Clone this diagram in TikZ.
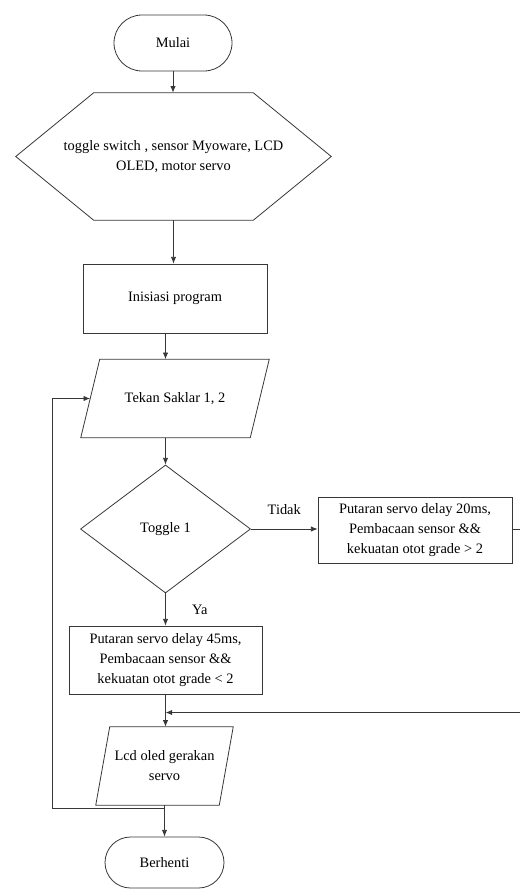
\documentclass[tikz,border=0pt]{standalone}
\usepackage{fontspec}
\setmainfont{Liberation Serif}
\usetikzlibrary{calc}
\usetikzlibrary{arrows.meta, positioning}
\usetikzlibrary{shapes.geometric, shapes.misc}

\begin{document}
\begin{tikzpicture}[x=0.75pt,y=0.75pt,yscale=-1,
  font=\fontsize{10.8}{15}\selectfont,
  garis/.style={color={rgb, 255:red, 55; green, 55; blue, 55}, line width=0.6pt},
  panah/.style={garis, -{Latex[length=5pt,width=4pt]}},
  terminal/.style={garis, draw, rounded rectangle, inner sep=0.75pt, text=black},
  proses/.style={garis, draw, rectangle, inner sep=0.75pt, align=center, text=black},
  kotak/.style={inner sep=0.75pt, align=center, text=black},
  keputusan/.style={garis, draw, diamond, inner sep=0.75pt, text=black},
  label/.style={inner sep=0.75pt, text=black}]

\useasboundingbox (0,0) rectangle (519,889);

% Mulai
\node [terminal, minimum width=90pt, minimum height=42pt] (mulai) at (173,43) {Mulai};
% Input hexagon
\node [kotak, minimum width=236.25pt, minimum height=95.25pt] (masukan) at (173.5,156.5) {toggle switch , sensor Myoware, LCD\\OLED, motor servo};
\draw [garis] (masukan.west) -- ([xshift=58.5pt]masukan.north west) -- ([xshift=-58.5pt]masukan.north east) -- (masukan.east) -- ([xshift=-58.5pt]masukan.south east) -- ([xshift=58.5pt]masukan.south west) -- cycle ;
% Inisiasi
\node [proses, minimum width=138pt, minimum height=51.75pt] (inisiasi) at (175,298.5) {Inisiasi program};
% Tekan saklar
\node [kotak, minimum width=141pt, minimum height=58.5pt] (tekan) at (175,398.5) {Tekan Saklar 1, 2};
\draw [garis] (tekan.south west) -- ([xshift=14.25pt]tekan.north west) -- (tekan.north east) -- ([xshift=-14.25pt]tekan.south east) -- cycle ;
% Toggle
\node [keputusan, minimum width=127.5pt, minimum height=96pt] (toggle) at (165.5,529) {Toggle 1};
% Tidak
\node [proses, minimum width=145.5pt, minimum height=49.5pt] (servoa) at (415,530) {Putaran servo delay 20ms,\\Pembacaan sensor \&\&\\kekuatan otot grade > 2};
% Ya
\node [proses, minimum width=144.75pt, minimum height=51pt] (servob) at (165.5,660) {Putaran servo delay 45ms,\\Pembacaan sensor \&\&\\kekuatan otot grade < 2};
% Lcd
\node [kotak, minimum width=102.75pt, minimum height=58.5pt] (lcd) at (164.5,766) {Lcd oled gerakan\\servo};
\draw [garis] (lcd.south west) -- ([xshift=10.5pt]lcd.north west) -- (lcd.north east) -- ([xshift=-10.5pt]lcd.south east) -- cycle ;
% Berhenti
\node [terminal, minimum width=90.75pt, minimum height=38.25pt] (berhenti) at (164.5,862.5) {Berhenti};

\coordinate (kiri) at (52,0);
\coordinate (kanan) at (527,0);
\coordinate (masukTekan) at ([xshift=7.1pt]tekan.west);
\coordinate (titikA) at ($(lcd.south)!0.1!(berhenti.north)$);
\coordinate (titikB) at ($(servob.south)!0.56!(servob.south |- lcd.north)$);

\draw [panah] (mulai.south) -- (mulai.south |- masukan.north) ;
\draw [panah] (masukan.south) -- (masukan.south |- inisiasi.north) ;
\draw [panah] (inisiasi.south -| toggle.north) -- (tekan.north -| toggle.north) ;
\draw [panah] (tekan.south -| toggle.north) -- (toggle.north) ;
\draw [panah] (toggle.east) -- (toggle.east -| servoa.west) node [label, midway, above=9.5pt] (tidak) {Tidak} ;
\draw [panah] (toggle.south) -- (servob.north) node [label, midway, right=19pt] (ya) {Ya} ;
\draw [panah] (servob.south) -- (servob.south |- lcd.north) ;
\draw [panah] (lcd.south) -- (lcd.south |- berhenti.north) ;
\draw [panah] (titikA) -| (kiri |- masukTekan) -- (masukTekan) ;
\draw [panah] (servoa.east |- toggle.east) -| (kanan |- titikB) -- (titikB) ;

\end{tikzpicture}
\end{document}
